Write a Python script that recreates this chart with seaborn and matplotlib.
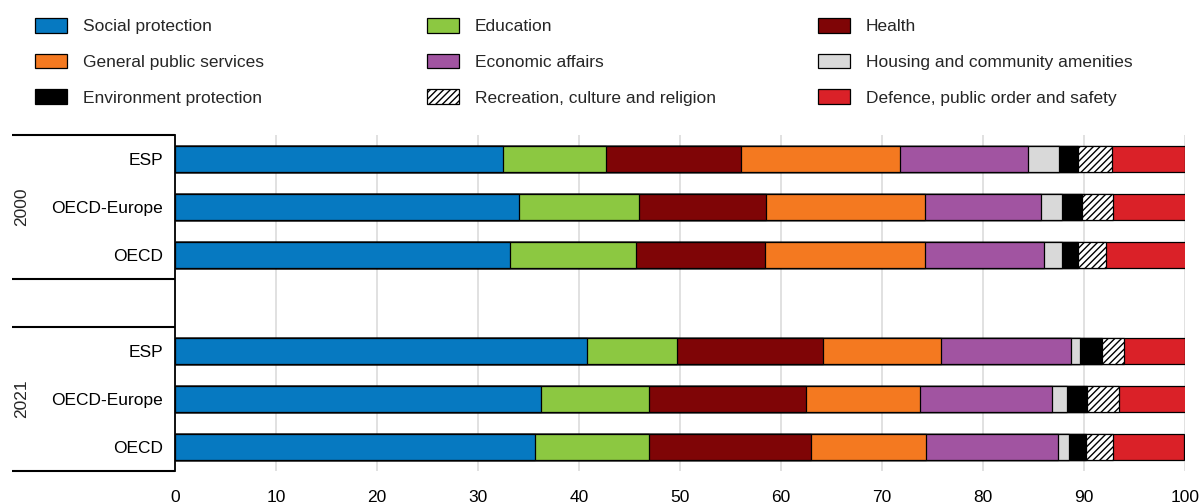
import matplotlib
matplotlib.use("Agg")
import matplotlib.pyplot as plt
import matplotlib.patches as mpatches
import matplotlib.transforms as mtransforms
import numpy as np
import pandas as pd
import seaborn as sns

# ---------------- data ----------------
years = ["2000", "2021"]
countries = ["ESP", "OECD-Europe", "OECD"]
categories = [
    "Social protection", "Education", "Health",
    "General public services", "Economic affairs", "Housing and community amenities",
    "Environment protection", "Recreation, culture and religion", "Defence, public order and safety",
]
# order of rows: 2000 ESP, 2000 OECD-Europe, 2000 OECD, 2021 ESP, 2021 OECD-Europe, 2021 OECD
social = [32.5, 34.1, 33.2, 40.8, 36.2, 35.6]
education = [10.2, 11.8, 12.4, 8.9, 10.7, 11.3]
health = [13.3, 12.6, 12.8, 14.5, 15.6, 16.1]
general_services = [15.8, 15.8, 15.9, 11.6, 11.3, 11.4]
economic = [12.7, 11.4, 11.7, 12.9, 13.0, 13.0]
housing = [3.0, 2.1, 1.8, 0.9, 1.5, 1.1]
environment = [1.9, 2.0, 1.6, 2.2, 2.0, 1.7]
recreation = [3.4, 3.1, 2.8, 2.2, 3.2, 2.7]
defence = [7.2, 7.2, 7.9, 6.0, 6.7, 7.0]
x_ticks = [0, 10, 20, 30, 40, 50, 60, 70, 80, 90, 100]

series = [social, education, health, general_services, economic,
          housing, environment, recreation, defence]
colors = ["#0679C1", "#8CC841", "#7F0506", "#F47920", "#A154A1",
          "#D9D9D9", "#000000", "#FFFFFF", "#DA2128"]
hatches = [None, None, None, None, None, None, None, "/////", None]

keys = [f"{y}|{c}" for y in years for c in countries]
order = keys[:3] + ["gap"] + keys[3:]

df = pd.DataFrame({"key": keys})
cum = np.zeros(len(keys))
for name, vals in zip(categories, series):
    cum = cum + np.array(vals)
    df[name] = cum

# ---------------- figure ----------------
sns.set_theme(style="white")
plt.rcParams["font.family"] = ["Liberation Sans", "DejaVu Sans"]
plt.rcParams["hatch.linewidth"] = 1.0
FS = 12.5

fig = plt.figure(figsize=(12.02, 5.04), dpi=100)
ax = fig.add_axes([175 / 1202, 1 - 471 / 504, 1010 / 1202, 336 / 504])

for i in range(len(categories) - 1, -1, -1):
    name = categories[i]
    kw = {}
    if hatches[i]:
        kw["hatch"] = hatches[i]
    sns.barplot(data=df, x=name, y="key", order=order, orient="h",
                color=colors[i], saturation=1, edgecolor="black", linewidth=0.9,
                width=0.54, ax=ax, zorder=2, **kw)

ax.set_xlim(0, 100)
ax.set_ylim(6.5, -0.5)
ax.set_xticks(x_ticks)
ax.set_xticklabels([str(t) for t in x_ticks], fontsize=FS, color="black")
ax.set_yticks(range(len(order)))
ax.set_yticklabels(countries + [""] + countries, fontsize=FS, color="black")
ax.tick_params(axis="both", length=0)
ax.tick_params(axis="y", pad=8.5)
ax.tick_params(axis="x", pad=14)
ax.set_xlabel("")
ax.set_ylabel("")

ax.grid(axis="x", color="#D9D9D9", linewidth=1.1)
ax.grid(axis="y", visible=False)
ax.set_axisbelow(True)
for s in ["top", "right", "bottom"]:
    ax.spines[s].set_visible(False)
ax.spines["left"].set_color("black")
ax.spines["left"].set_linewidth(1.3)
ax.spines["left"].set_zorder(5)

# group separators and year labels
trans = mtransforms.blended_transform_factory(ax.transAxes, ax.transData)
x_left = (12 - 175) / 1010
for yb in [-0.5, 2.5, 3.5, 6.5]:
    ax.plot([x_left, 0], [yb, yb], color="black", linewidth=1.5,
            transform=trans, clip_on=False, solid_capstyle="butt")
x_year = (22 - 175) / 1010
for yc, yr in zip([1, 5], years):
    ax.text(x_year, yc, yr, rotation=90, ha="center", va="center",
            fontsize=FS, transform=trans)

# legend: three columns
handles = [mpatches.Patch(facecolor=c, edgecolor="black", linewidth=0.9,
                          hatch=h) for c, h in zip(colors, hatches)]
col_x = [35, 427, 818]
for col in range(3):
    idx = [col, col + 3, col + 6]
    fig.legend([handles[i] for i in idx], [categories[i] for i in idx],
               loc="upper left", bbox_to_anchor=(col_x[col] / 1202, 1 - 18 / 504),
               frameon=False, fontsize=FS, borderpad=0, borderaxespad=0,
               handlelength=1.84, handleheight=0.92, handletextpad=0.9,
               labelspacing=1.12)

fig.savefig("out.png", dpi=100)
